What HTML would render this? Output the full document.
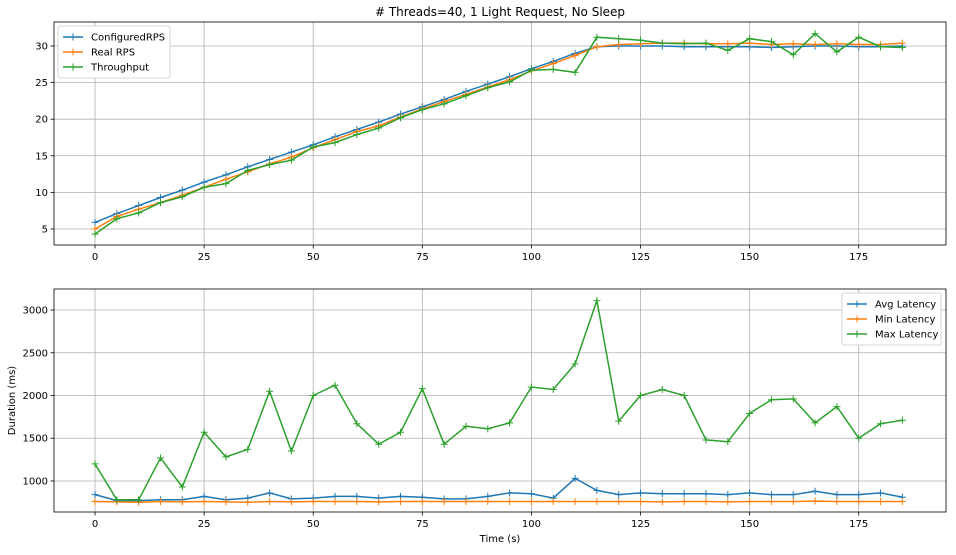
<!DOCTYPE html>
<html><head><meta charset="utf-8"><style>
body{margin:0;background:#fff;font-family:"Liberation Sans","DejaVu Sans",sans-serif;}
svg text{font-family:"DejaVu Sans","Liberation Sans",sans-serif;font-size:10px;fill:#000;}
</style></head><body>
<svg id="c" width="956" height="550"></svg>
<script>
const times=[];for(let t=0;t<=185;t+=5)times.push(t);
const configured=[5.9,7.1,8.2,9.3,10.3,11.4,12.4,13.5,14.5,15.5,16.5,17.6,18.6,19.6,20.7,21.7,22.7,23.8,24.8,25.8,26.9,27.9,29.0,29.9,30.0,30.0,30.0,29.9,29.9,29.9,29.9,29.8,29.9,30.0,30.0,29.9,29.9,30.0,29.8].slice(0,38);
const realRps=[5.0,6.7,7.7,8.6,9.6,10.7,11.8,12.8,13.9,14.8,16.1,17.2,18.3,19.1,20.3,21.4,22.4,23.4,24.4,25.4,26.6,27.6,28.7,29.9,30.2,30.3,30.4,30.4,30.3,30.3,30.4,30.2,30.3,30.2,30.3,30.2,30.2,30.4];
const throughput=[4.3,6.4,7.2,8.6,9.4,10.7,11.2,13.0,13.8,14.4,16.2,16.8,17.9,18.8,20.2,21.3,22.1,23.2,24.3,25.1,26.7,26.8,26.4,31.2,31.0,30.8,30.4,30.3,30.4,29.4,31.0,30.6,28.8,31.7,29.2,31.2,29.9,29.8];
const maxLat=[1200,780,780,1270,930,1570,1280,1370,2050,1350,2000,2120,1670,1430,1570,2080,1430,1640,1610,1680,2100,2070,2370,3110,1700,2000,2070,2000,1480,1460,1790,1950,1960,1680,1870,1500,1670,1710];
const avgLat=[840,770,770,780,780,820,780,800,860,790,800,820,820,800,820,810,790,790,820,860,850,800,1030,890,840,860,850,850,850,840,860,840,840,880,840,840,860,810];
const minLat=[760,755,750,760,755,760,755,750,760,755,760,760,760,755,760,760,760,760,760,760,760,760,760,760,760,760,755,760,760,755,760,760,760,765,760,760,760,760];
const xTicks=[0,25,50,75,100,125,150,175];
const topYTicks=[5,10,15,20,25,30];
const botYTicks=[1000,1500,2000,2500,3000];
const C=['#1f77b4','#ff7f0e','#2ca02c'];
const svg=document.getElementById('c');const NS='http://www.w3.org/2000/svg';
function mk(tag,attrs,parent){const e=document.createElementNS(NS,tag);for(const k in attrs)e.setAttribute(k,attrs[k]);(parent||svg).appendChild(e);return e;}
function panel(box,xr,yr,yTicks,series,names,legendPos,name,ylabel,xlabel,title){
  const g=mk('g',{});
  
  
  const X=v=>box.x0+(v-xr[0])/(xr[1]-xr[0])*(box.x1-box.x0);
  const Y=v=>box.y1-(v-yr[0])/(yr[1]-yr[0])*(box.y1-box.y0);
  xTicks.forEach(t=>{const x=X(t);mk('line',{x1:x,x2:x,y1:box.y0,y2:box.y1,stroke:'#b0b0b0','stroke-width':0.8},g);
    mk('line',{x1:x,x2:x,y1:box.y1,y2:box.y1+3.5,stroke:'#000','stroke-width':0.8},g);
    const tx=mk('text',{x:x,y:box.y1+15,'text-anchor':'middle'},g);tx.textContent=t;
    
    });
  yTicks.forEach(t=>{const y=Y(t);mk('line',{x1:box.x0,x2:box.x1,y1:y,y2:y,stroke:'#b0b0b0','stroke-width':0.8},g);
    mk('line',{x1:box.x0-3.5,x2:box.x0,y1:y,y2:y,stroke:'#000','stroke-width':0.8},g);
    const tx=mk('text',{x:box.x0-6,y:y+3.5,'text-anchor':'end'},g);tx.textContent=t;
    
    });
  series.forEach((s,i)=>{const pts=s.map((v,j)=>X(times[j]).toFixed(1)+','+Y(v).toFixed(1)).join(' ');
    const pl=mk('polyline',{points:pts,fill:'none',stroke:C[i],'stroke-width':1.5},g);
    
    
    s.forEach((v,j)=>{const x=X(times[j]),y=Y(v);
      mk('path',{d:`M${x-3.5},${y}h7M${x},${y-3.5}v7`,stroke:C[i],'stroke-width':1},g);});});
  mk('rect',{x:box.x0,y:box.y0,width:box.x1-box.x0,height:box.y1-box.y0,fill:'none',stroke:'#000','stroke-width':0.8},g);
  const lg=mk('g',{},g);
  
  
  mk('rect',{x:legendPos.x,y:legendPos.y,width:legendPos.w,height:52,fill:'#fff',stroke:'#ccc','stroke-width':0.8,rx:2},lg);
  names.forEach((n,i)=>{const y=legendPos.y+11+i*15;
    mk('line',{x1:legendPos.x+5,x2:legendPos.x+25,y1:y,y2:y,stroke:C[i],'stroke-width':1.5},lg);
    mk('path',{d:`M${legendPos.x+11.5},${y}h7M${legendPos.x+15},${y-3.5}v7`,stroke:C[i],'stroke-width':1},lg);
    const t=mk('text',{x:legendPos.x+33,y:y+3.5},lg);t.textContent=n;
    
    });
  if(ylabel){const t=mk('text',{x:0,y:0,'text-anchor':'middle',transform:`translate(15,${(box.y0+box.y1)/2}) rotate(-90)`},g);t.textContent=ylabel;
    }
  if(xlabel){const t=mk('text',{x:(box.x0+box.x1)/2,y:box.y1+30,'text-anchor':'middle'},g);t.textContent=xlabel;
    }
  if(title){const t=mk('text',{x:(box.x0+box.x1)/2,y:box.y0-6,'text-anchor':'middle',style:'font-size:12px'},g);t.textContent=title;
    }
}
panel({x0:54,x1:946,y0:22,y1:245},[-9.4,195],[2.81,33.28],topYTicks,[configured,realRps,throughput],['ConfiguredRPS','Real RPS','Throughput'],{x:58,y:26,w:112},'top-rps-chart',null,null,'# Threads=40, 1 Light Request, No Sleep');
panel({x0:54,x1:946,y0:289,y1:512},[-9.4,195],[637,3246],botYTicks,[avgLat,minLat,maxLat],['Avg Latency','Min Latency','Max Latency'],{x:842,y:293,w:99},'bottom-latency-chart','Duration (ms)','Time (s)',null);
</script>
</body></html>
